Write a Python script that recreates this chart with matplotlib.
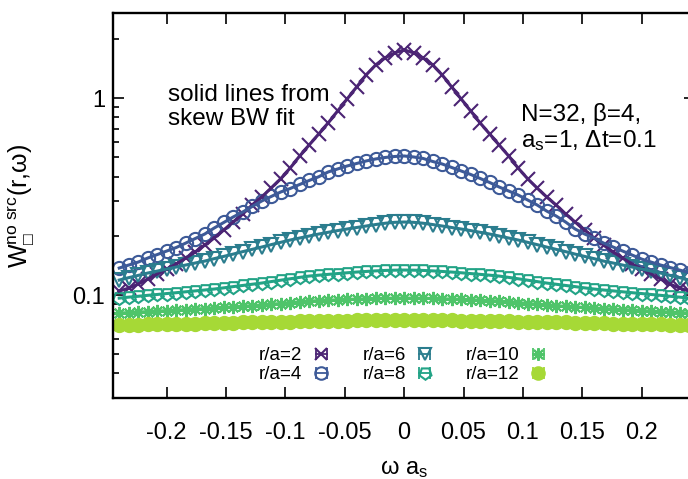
import matplotlib
matplotlib.use("Agg")
import matplotlib.pyplot as plt
from matplotlib.lines import Line2D
from matplotlib.legend_handler import HandlerLine2D, HandlerTuple
from matplotlib.ticker import FixedLocator, NullFormatter, LogLocator

plt.rcParams['font.family'] = ['Liberation Sans', 'DejaVu Sans']
plt.rcParams['mathtext.fontset'] = 'custom'
plt.rcParams['mathtext.rm'] = 'Liberation Sans'
plt.rcParams['mathtext.it'] = 'Liberation Sans:italic'
plt.rcParams['mathtext.sf'] = 'Liberation Sans'
plt.rcParams['axes.unicode_minus'] = False

# omega * a_s grid of the data points
omega = [-0.240, -0.232, -0.224, -0.216, -0.208, -0.200, -0.192, -0.184, -0.176, -0.168,
         -0.160, -0.152, -0.144, -0.136, -0.128, -0.120, -0.112, -0.104, -0.096, -0.088,
         -0.080, -0.072, -0.064, -0.056, -0.048, -0.040, -0.032, -0.024, -0.016, -0.008,
         0.000,
         0.008, 0.016, 0.024, 0.032, 0.040, 0.048, 0.056, 0.064, 0.072, 0.080,
         0.088, 0.096, 0.104, 0.112, 0.120, 0.128, 0.136, 0.144, 0.152, 0.160,
         0.168, 0.176, 0.184, 0.192, 0.200, 0.208, 0.216, 0.224, 0.232, 0.240]

w_r2 = [0.1048, 0.1085, 0.1137, 0.1206, 0.1279, 0.1356, 0.1438, 0.1542, 0.1654, 0.1795,
        0.195, 0.214, 0.235, 0.258, 0.287, 0.315, 0.350, 0.390, 0.442, 0.509,
        0.579, 0.658, 0.749, 0.862, 0.992, 1.141, 1.314, 1.476, 1.603, 1.699,
        1.760,
        1.699, 1.603, 1.476, 1.314, 1.141, 0.992, 0.862, 0.749, 0.658, 0.579,
        0.509, 0.442, 0.390, 0.350, 0.315, 0.287, 0.258, 0.235, 0.214, 0.195,
        0.1795, 0.1654, 0.1542, 0.1438, 0.1356, 0.1279, 0.1206, 0.1137, 0.1085, 0.1048]

w_r4 = [0.1372, 0.1421, 0.1471, 0.1542, 0.1606, 0.1674, 0.1744, 0.1837, 0.1937, 0.2042,
        0.2191, 0.2337, 0.2493, 0.2642, 0.2818, 0.3005, 0.3168, 0.3339, 0.3478, 0.3646,
        0.3821, 0.3990, 0.4221, 0.4372, 0.4527, 0.4661, 0.4800, 0.4914, 0.5000, 0.5058,
        0.5088,
        0.5029, 0.4943, 0.4772, 0.4634, 0.4449, 0.4270, 0.4099, 0.3912, 0.3732, 0.3540,
        0.3378, 0.3224, 0.3041, 0.2869, 0.2673, 0.2522, 0.2350, 0.2166, 0.2042, 0.1949,
        0.1837, 0.1754, 0.1674, 0.1597, 0.1524, 0.1471, 0.1421, 0.1380, 0.1340, 0.1301]

w_r6 = [0.1192, 0.1226, 0.1259, 0.1294, 0.1324, 0.1356, 0.1388, 0.1421, 0.1455, 0.1488,
        0.1531, 0.1572, 0.1615, 0.1662, 0.1707, 0.1754, 0.1804, 0.1853, 0.1904, 0.1949,
        0.1995, 0.2042, 0.2084, 0.2126, 0.2166, 0.2204, 0.2243, 0.2282, 0.2317, 0.2342,
        0.2350,
        0.2342, 0.2317, 0.2282, 0.2243, 0.2204, 0.2166, 0.2126, 0.2084, 0.2042, 0.1995,
        0.1949, 0.1904, 0.1853, 0.1804, 0.1754, 0.1707, 0.1662, 0.1615, 0.1572, 0.1531,
        0.1488, 0.1455, 0.1421, 0.1388, 0.1356, 0.1324, 0.1294, 0.1259, 0.1226, 0.1192]

w_r8 = [0.0965, 0.0976, 0.0986, 0.0997, 0.1007, 0.1018, 0.1028, 0.1039, 0.1050, 0.1061,
        0.1073, 0.1088, 0.1104, 0.1119, 0.1135, 0.1151, 0.1171, 0.1190, 0.1210, 0.1230,
        0.1249, 0.1262, 0.1274, 0.1286, 0.1298, 0.1309, 0.1318, 0.1327, 0.1334, 0.1338,
        0.1340,
        0.1338, 0.1334, 0.1327, 0.1318, 0.1309, 0.1298, 0.1286, 0.1274, 0.1262, 0.1249,
        0.1230, 0.1210, 0.1190, 0.1171, 0.1151, 0.1135, 0.1119, 0.1104, 0.1088, 0.1073,
        0.1061, 0.1050, 0.1039, 0.1028, 0.1018, 0.1007, 0.0997, 0.0986, 0.0976, 0.0965]

w_r10 = [0.0810, 0.0815, 0.0820, 0.0824, 0.0829, 0.0834, 0.0839, 0.0844, 0.0849, 0.0854,
         0.0859, 0.0865, 0.0871, 0.0877, 0.0883, 0.0890, 0.0898, 0.0906, 0.0915, 0.0923,
         0.0932, 0.0937, 0.0942, 0.0946, 0.0951, 0.0954, 0.0958, 0.0961, 0.0963, 0.0965,
         0.0965,
         0.0965, 0.0963, 0.0961, 0.0958, 0.0954, 0.0951, 0.0946, 0.0942, 0.0937, 0.0932,
         0.0923, 0.0915, 0.0906, 0.0898, 0.0890, 0.0883, 0.0877, 0.0871, 0.0865, 0.0859,
         0.0854, 0.0849, 0.0844, 0.0839, 0.0834, 0.0829, 0.0824, 0.0820, 0.0815, 0.0810]

w_r12 = [0.0704, 0.0706, 0.0707, 0.0709, 0.0710, 0.0712, 0.0714, 0.0716, 0.0717, 0.0719,
         0.0721, 0.0723, 0.0724, 0.0726, 0.0727, 0.0729, 0.0731, 0.0733, 0.0734, 0.0736,
         0.0738, 0.0739, 0.0740, 0.0741, 0.0742, 0.0743, 0.0744, 0.0745, 0.0745, 0.0746,
         0.0746,
         0.0746, 0.0745, 0.0745, 0.0744, 0.0743, 0.0742, 0.0741, 0.0740, 0.0739, 0.0738,
         0.0736, 0.0734, 0.0733, 0.0731, 0.0729, 0.0727, 0.0726, 0.0724, 0.0723, 0.0721,
         0.0719, 0.0717, 0.0716, 0.0714, 0.0712, 0.0710, 0.0709, 0.0707, 0.0706, 0.0704]

labels = ["r/a=2", "r/a=4", "r/a=6", "r/a=8", "r/a=10", "r/a=12"]
series = [w_r2, w_r4, w_r6, w_r8, w_r10, w_r12]
colors = ["#4b2474", "#3d5a98", "#2b7d8e", "#22a386", "#4fc46a", "#a6d936"]
markers = ["x", "o", "v", (5, 0, 180), (8, 2, 0), "o"]
filled = [False, False, False, False, False, True]

xticks = [-0.2, -0.15, -0.1, -0.05, 0, 0.05, 0.1, 0.15, 0.2]
xticklabels = ["-0.2", "-0.15", "-0.1", "-0.05", "0", "0.05", "0.1", "0.15", "0.2"]

fig = plt.figure(figsize=(6.88, 4.79), dpi=100)
ax = fig.add_axes([113.3 / 688, 81 / 479, 581.7 / 688, 384.7 / 479])

handles = []
handler_map = {tuple: HandlerTuple(ndivide=1, pad=0)}
for w, lab, c, m, f in zip(series, labels, colors, markers, filled):
    ax.plot(omega, w, ls='none', marker=m, ms=9.5, mew=1.5, mec=c,
            mfc=c if f else 'none', zorder=2)
    ax.plot(omega, w, '-', color=c, lw=2.2, zorder=3)
    cap = Line2D([], [], color=c, lw=1.3, marker='|', ms=8, mew=1.3)
    mk = Line2D([], [], ls='none', marker=m, ms=9, mew=1.5, mec=c,
                mfc=c if f else 'none')
    handler_map[cap] = HandlerLine2D(numpoints=2)
    handles.append((cap, mk))

ax.set_yscale('log')
ax.set_xlim(-0.245, 0.245)
ax.set_ylim(0.03, 2.7)
ax.set_xticks(xticks)
ax.set_xticklabels(xticklabels)
ax.xaxis.set_minor_locator(FixedLocator([]))
ax.yaxis.set_major_locator(FixedLocator([0.1, 1]))
ax.set_yticklabels(["0.1", "1"])
ax.yaxis.set_minor_locator(LogLocator(base=10, subs=[2, 3, 4, 5, 6, 7, 8, 9]))
ax.yaxis.set_minor_formatter(NullFormatter())

ax.tick_params(which='both', direction='in', top=True, right=True, width=1.2)
ax.tick_params(which='major', length=8, labelsize=17)
ax.tick_params(which='minor', length=4.5)
ax.tick_params(axis='x', which='major', pad=17.5)
ax.tick_params(axis='y', which='major', pad=6)
for s in ax.spines.values():
    s.set_linewidth(1.7)

ax.set_xlabel(r"ω a$_\mathregular{s}$", fontsize=17)
ax.xaxis.set_label_coords(0.5, -0.157)
ax.set_ylabel(r"W$_\mathregular{□}^\mathregular{no\ src}$(r,ω)", fontsize=18)
ax.yaxis.set_label_coords(-0.131, 0.5)

ax.text(-0.1987, 1.18, "solid lines from\nskew BW fit", fontsize=17.5,
        ha='left', va='top', linespacing=1.1)
ax.text(0.0985, 0.95, "N=32, β=4,\na$_\\mathregular{s}$=1, Δt=0.1", fontsize=17.5,
        ha='left', va='top', linespacing=1.15)

ax.legend(handles, labels, handler_map=handler_map, ncol=3, markerfirst=False,
          frameon=False, fontsize=13.5, loc='upper left',
          bbox_to_anchor=(259 / 688, 1 - 347 / 479), bbox_transform=fig.transFigure,
          borderpad=0, borderaxespad=0, handlelength=1.2, handletextpad=0.4,
          columnspacing=1.6, labelspacing=0.1)

fig.savefig("out.png", dpi=100)
